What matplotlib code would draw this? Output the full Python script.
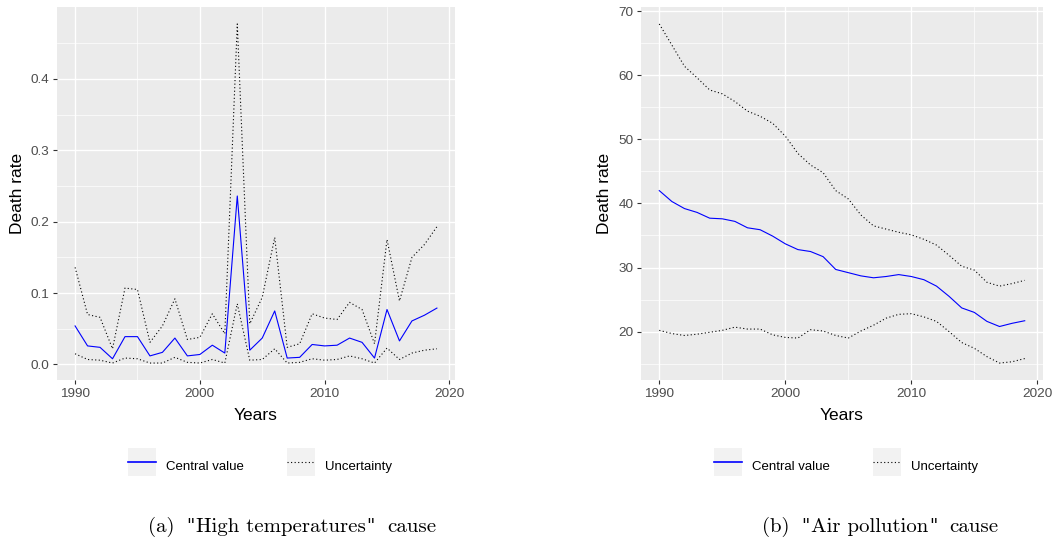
import matplotlib
matplotlib.use("Agg")
import matplotlib.pyplot as plt
from matplotlib.lines import Line2D
from matplotlib.patches import Rectangle
from matplotlib.legend_handler import HandlerLine2D

plt.rcParams['font.family'] = ['Liberation Sans', 'DejaVu Sans']

years = list(range(1990, 2020))

# "High temperatures" cause
heat_central = [0.054, 0.026, 0.024, 0.008, 0.039, 0.039, 0.012, 0.017, 0.037, 0.012,
                0.014, 0.027, 0.016, 0.236, 0.020, 0.037, 0.075, 0.009, 0.010, 0.028,
                0.026, 0.027, 0.037, 0.031, 0.009, 0.077, 0.033, 0.061, 0.069, 0.079]
heat_upper = [0.136, 0.070, 0.066, 0.022, 0.107, 0.105, 0.031, 0.054, 0.092, 0.035,
              0.038, 0.071, 0.043, 0.477, 0.057, 0.094, 0.178, 0.024, 0.029, 0.071,
              0.065, 0.063, 0.087, 0.077, 0.029, 0.175, 0.089, 0.150, 0.168, 0.193]
heat_lower = [0.015, 0.007, 0.006, 0.002, 0.009, 0.008, 0.002, 0.002, 0.010, 0.003,
              0.002, 0.007, 0.002, 0.085, 0.006, 0.007, 0.022, 0.002, 0.003, 0.008,
              0.006, 0.007, 0.012, 0.008, 0.002, 0.023, 0.007, 0.016, 0.020, 0.022]

# "Air pollution" cause
air_central = [42.0, 40.3, 39.2, 38.6, 37.7, 37.6, 37.2, 36.2, 35.9, 34.9,
               33.7, 32.8, 32.5, 31.7, 29.7, 29.2, 28.7, 28.4, 28.6, 28.9,
               28.6, 28.1, 27.1, 25.5, 23.7, 23.0, 21.6, 20.8, 21.3, 21.7]
air_upper = [68.0, 64.7, 61.4, 59.6, 57.7, 57.1, 55.9, 54.4, 53.6, 52.5,
             50.5, 47.8, 46.0, 44.8, 42.0, 40.7, 38.2, 36.5, 36.0, 35.5,
             35.1, 34.4, 33.5, 31.9, 30.2, 29.6, 27.7, 27.1, 27.5, 28.0]
air_lower = [20.2, 19.7, 19.4, 19.6, 19.9, 20.2, 20.7, 20.4, 20.4, 19.5,
             19.1, 19.0, 20.3, 20.1, 19.4, 19.0, 20.1, 21.0, 22.1, 22.7,
             22.8, 22.3, 21.6, 20.0, 18.3, 17.4, 16.1, 15.1, 15.3, 15.8]

x_major = [1990, 2000, 2010, 2020]
x_minor = [1995, 2005, 2015]
heat_major = [0.0, 0.1, 0.2, 0.3, 0.4]
heat_minor = [0.05, 0.15, 0.25, 0.35, 0.45]
air_major = [20, 30, 40, 50, 60, 70]
air_minor = [15, 25, 35, 45, 55, 65]

# caption pieces: quotes drawn in a font that has a straight double quote
captions = [
    ['(a)', None, '"', 'High temperatures', '"', None, 'cause'],
    ['(b)', None, '"', 'Air pollution', '"', None, 'cause'],
]


class KeyBox(HandlerLine2D):
    # ggplot-like grey square behind the legend key
    def create_artists(self, legend, orig_handle, xdescent, ydescent,
                       width, height, fontsize, trans):
        yc = (height - ydescent) / 2
        bg = Rectangle((-xdescent, yc - width / 2), width, width,
                       facecolor='#F2F2F2', edgecolor='none', transform=trans)
        arts = super().create_artists(legend, orig_handle, xdescent, ydescent,
                                      width, height, fontsize, trans)
        return [bg] + arts


W, H = 1054, 539
fig = plt.figure(figsize=(W / 100, H / 100), dpi=100)

panels = [
    (57, 455, heat_central, heat_upper, heat_lower, heat_major, heat_minor,
     ['0.0', '0.1', '0.2', '0.3', '0.4'], -0.098, 260, 289),
    (641, 1043, air_central, air_upper, air_lower, air_major, air_minor,
     [str(v) for v in air_major], -0.09, 846, 877),
]

dot = (0, (1, 2.2))

for (x0, x1, cen, up, lo, ymaj, ymin, ylabs, ylab_x, leg_x, cap_x) in panels:
    ax = fig.add_axes([x0 / W, 1 - 380 / H, (x1 - x0) / W, 373 / H])
    ax.set_facecolor('#EBEBEB')
    for s in ax.spines.values():
        s.set_visible(False)
    ax.plot(years, up, color='black', lw=0.8, linestyle=dot)
    ax.plot(years, lo, color='black', lw=0.8, linestyle=dot)
    ax.plot(years, cen, color='blue', lw=0.8)
    ax.margins(x=0.05, y=0.05)
    ax.set_xticks(x_major)
    ax.set_xticks(x_minor, minor=True)
    ax.set_yticks(ymaj)
    ax.set_yticklabels(ylabs)
    ax.set_yticks(ymin, minor=True)
    ax.grid(which='major', color='white', lw=1.0)
    ax.grid(which='minor', color='white', lw=0.5)
    ax.set_axisbelow(True)
    ax.tick_params(which='major', length=3, width=0.8, color='#333333',
                   labelcolor='#4D4D4D', labelsize=9.7, pad=2.5)
    ax.tick_params(which='minor', length=0)
    ax.set_xlabel('Years', fontsize=12.5, color='black')
    ax.xaxis.label.set_va('center')
    ax.xaxis.set_label_coords(0.5, -0.0965)
    ax.set_ylabel('Death rate', fontsize=12.5, color='black')
    ax.yaxis.label.set_va('center')
    ax.yaxis.set_label_coords(ylab_x, 0.5)

    handles = [Line2D([], [], color='blue', lw=1.2),
               Line2D([], [], color='black', lw=0.8, linestyle=dot)]
    fig.legend(handles, ['Central value', 'Uncertainty'], loc='center',
               bbox_to_anchor=(leg_x / W, 1 - 465.5 / H), ncol=2, frameon=False,
               fontsize=9.5, handlelength=2.12, handleheight=2.12,
               handletextpad=0.76, columnspacing=3.33, borderpad=0,
               handler_map={Line2D: KeyBox()})

# captions, built from pieces so the quotes come out straight
renderer = fig.canvas.get_renderer()
gap = 10
for parts, cx in zip(captions, [289, 877]):
    texts, widths = [], []
    for p in parts:
        if p is None:
            texts.append(None)
            widths.append(gap)
            continue
        if p == '"':
            t = fig.text(0, 1 - 532 / H, p, va='baseline', ha='left',
                         fontsize=13, family='DejaVu Serif')
        else:
            t = fig.text(0, 1 - 532 / H, p, va='baseline', ha='left',
                         fontsize=15, family='cmr10')
        texts.append(t)
        widths.append(t.get_window_extent(renderer).width)
    x = cx - sum(widths) / 2
    for t, w in zip(texts, widths):
        if t is not None:
            t.set_x(x / W)
        x += w + 1

fig.savefig('out.png', dpi=100)
